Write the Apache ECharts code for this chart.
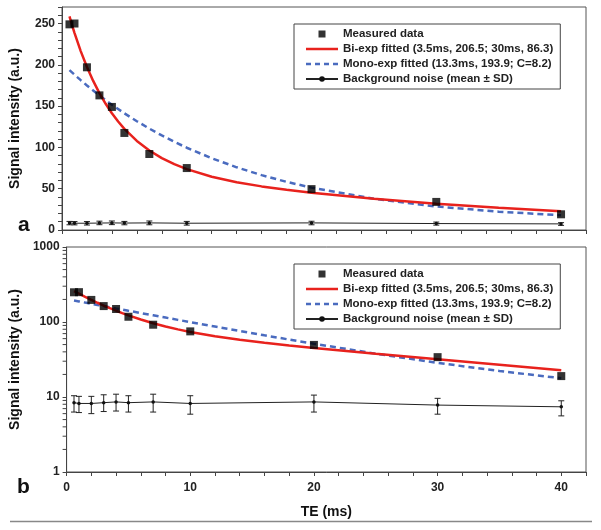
<!DOCTYPE html>
<html><head><meta charset="utf-8">
<script src="https://cdn.jsdelivr.net/npm/echarts@6/dist/echarts.min.js"></script>
<style>html,body{margin:0;padding:0;background:#fff}#c{width:601px;height:530px}</style>
</head><body><div id="c"></div>
<script>
// ---- data ----
const teMeasured = [0.6, 1, 2, 3, 4, 5, 7, 10, 20, 30, 40];
const measured   = [249, 250, 197, 163, 149, 117.5, 92, 75, 49.5, 34, 19];
const teFit   = [0.6, 0.8, 1, 1.5, 2, 2.5, 3, 3.5, 4, 4.5, 5, 6, 7, 8, 9, 10, 12, 14, 16, 18, 20, 25, 30, 35, 40];
const biExp   = [258.6, 248.3, 238.7, 216.6, 197.3, 180.5, 165.7, 152.8, 141.4, 131.4, 122.5, 107.8, 96.3, 87.1, 79.7, 73.7, 64.5, 57.9, 52.8, 48.6, 45.0, 37.7, 31.8, 26.9, 22.8];
const monoExp = [193.5, 190.8, 188.1, 181.4, 175.0, 168.9, 163.0, 157.2, 151.7, 146.5, 141.3, 131.7, 122.8, 114.5, 106.8, 99.6, 86.9, 75.9, 66.4, 58.3, 51.3, 37.8, 28.5, 22.2, 17.8];
const noiseMean = [8.4, 8.2, 8.2, 8.4, 8.6, 8.4, 8.6, 8.2, 8.6, 7.8, 7.4];
const noiseLow  = [6.3, 6.2, 6.0, 6.4, 6.5, 6.3, 6.3, 5.9, 6.3, 5.9, 5.6];
const noiseHigh = [10.4, 10.2, 10.2, 10.7, 10.9, 10.4, 10.9, 10.4, 10.6, 9.6, 8.9];
const linLabels = [0, 50, 100, 150, 200, 250];
const logLabels = [1, 10, 100, 1000];
const logMinor  = [2,3,4,5,6,7,8,9,20,30,40,50,60,70,80,90,200,300,400,500,600,700,800,900];
const xLabels   = [0, 10, 20, 30, 40];
const names = ['Measured data', 'Bi-exp fitted (3.5ms, 206.5; 30ms, 86.3)', 'Mono-exp fitted (13.3ms, 193.9; C=8.2)', 'Background noise (mean \u00b1 SD)'];

// ---- chart ----
const FONT = 'Liberation Sans, Arial, sans-serif';
const AX = '#444';
const RED = '#e8221d', BLUE = '#4a6bbf';
const chart = echarts.init(document.getElementById('c'), null, {renderer: 'canvas'});

function xAxisCfg(gi, showLabels) {
  return {
    type: 'value', gridIndex: gi, min: 0, max: 42, interval: 2,
    axisLine: {show: true, onZero: false, lineStyle: {color: AX, width: 1}},
    axisTick: {show: true, inside: false, length: 4, lineStyle: {color: AX}},
    splitLine: {show: false},
    axisLabel: {show: showLabels, margin: 10, fontFamily: FONT, fontWeight: 'bold', fontSize: 12, color: '#222',
      formatter: v => xLabels.indexOf(v) >= 0 ? String(v) : ''},
    name: showLabels ? 'TE (ms)' : '', nameLocation: 'middle', nameGap: 33,
    nameTextStyle: {fontFamily: FONT, fontWeight: 'bold', fontSize: 14, color: '#111'}
  };
}
const yName = {fontFamily: FONT, fontWeight: 'bold', fontSize: 14, color: '#111'};

function panelSeries(gi) {
  return [
    {name: names[2], type: 'line', xAxisIndex: gi, yAxisIndex: gi, showSymbol: false, symbol: 'none', smooth: false,
     lineStyle: {color: BLUE, width: 2.5, type: [6, 4]}, itemStyle: {color: BLUE},
     data: teFit.map((t, i) => [t, monoExp[i]]), z: 3},
    {name: names[1], type: 'line', xAxisIndex: gi, yAxisIndex: gi, showSymbol: false, symbol: 'none', smooth: false,
     lineStyle: {color: RED, width: 2.5}, itemStyle: {color: RED},
     data: teFit.map((t, i) => [t, biExp[i]]), z: 4},
    {name: names[3], type: 'line', xAxisIndex: gi, yAxisIndex: gi, symbol: 'circle', symbolSize: 3.5,
     lineStyle: {color: '#222', width: 1}, itemStyle: {color: '#111'},
     data: teMeasured.map((t, i) => [t, noiseMean[i]]), z: 3},
    {name: 'err' + gi, type: 'custom', xAxisIndex: gi, yAxisIndex: gi, silent: true, z: 3,
     data: teMeasured.map((t, i) => [t, noiseLow[i], noiseHigh[i]]),
     renderItem: (params, api) => {
       const lo = api.coord([api.value(0), api.value(1)]);
       const hi = api.coord([api.value(0), api.value(2)]);
       const st = {stroke: '#222', lineWidth: 1};
       return {type: 'group', children: [
         {type: 'line', shape: {x1: lo[0], y1: lo[1], x2: hi[0], y2: hi[1]}, style: st},
         {type: 'line', shape: {x1: lo[0] - 3, y1: lo[1], x2: lo[0] + 3, y2: lo[1]}, style: st},
         {type: 'line', shape: {x1: hi[0] - 3, y1: hi[1], x2: hi[0] + 3, y2: hi[1]}, style: st}
       ]};
     }},
    {name: names[0], type: 'scatter', xAxisIndex: gi, yAxisIndex: gi, symbol: 'rect', symbolSize: 8,
     itemStyle: {color: '#000'}, data: teMeasured.map((t, i) => [t, measured[i]]), z: 6}
  ];
}

function legendCfg(top) {
  return {
    left: 294, top: top, orient: 'vertical', itemWidth: 32, itemHeight: 7, itemGap: 3,
    padding: [4, 7, 4, 11], borderColor: '#444', borderWidth: 1, backgroundColor: '#fff',
    selectedMode: false,
    textStyle: {fontFamily: FONT, fontWeight: 'bold', fontSize: 11.5, color: '#222'},
    data: [
      {name: names[0], icon: 'path://M0,0h10v10h-10z'},
      {name: names[1], icon: 'path://M0,0h32v2.5h-32z', itemStyle: {color: RED, borderWidth: 0}},
      {name: names[2], icon: 'path://M0,0h5v2.5h-5zM9,0h5v2.5h-5zM18,0h5v2.5h-5zM27,0h5v2.5h-5z', itemStyle: {color: BLUE, borderWidth: 0}},
      names[3]
    ]
  };
}

const option = {
  animation: false,
  backgroundColor: '#fff',
  grid: [
    {left: 62, right: 15, top: 7, height: 223, show: true, borderColor: '#555', borderWidth: 1, backgroundColor: 'transparent'},
    {left: 62, right: 15, top: 247, height: 225, show: true, borderColor: '#555', borderWidth: 1, backgroundColor: 'transparent'}
  ],
  legend: [legendCfg(24), legendCfg(264)],
  xAxis: [xAxisCfg(0, false), xAxisCfg(1, true)],
  yAxis: [
    {type: 'value', gridIndex: 0, min: 0, max: 270, interval: 10,
     axisLine: {show: true, lineStyle: {color: AX}},
     axisTick: {show: true, length: 4, lineStyle: {color: AX}},
     splitLine: {show: false},
     axisLabel: {margin: 7, fontFamily: FONT, fontWeight: 'bold', fontSize: 12, color: '#222',
       formatter: v => linLabels.indexOf(v) >= 0 ? String(v) : ''},
     name: 'Signal intensity (a.u.)', nameLocation: 'middle', nameGap: 40, nameTextStyle: yName},
    {type: 'log', logBase: 10, gridIndex: 1, min: 1, max: 1000,
     axisLine: {show: true, lineStyle: {color: AX}},
     axisTick: {show: true, length: 4, lineStyle: {color: AX}},
     minorTick: {show: false},
     splitLine: {show: false},
     axisLabel: {margin: 7, fontFamily: FONT, fontWeight: 'bold', fontSize: 12, color: '#222',
       formatter: v => logLabels.indexOf(Math.round(v)) >= 0 ? String(Math.round(v)) : ''},
     name: 'Signal intensity (a.u.)', nameLocation: 'middle', nameGap: 40, nameTextStyle: yName}
  ],
  graphic: [
    {type: 'text', left: 18, top: 215, style: {text: 'a', font: 'bold 21px ' + FONT, fill: '#111'}},
    {type: 'text', left: 17, top: 477, style: {text: 'b', font: 'bold 21px ' + FONT, fill: '#111'}},
    {type: 'line', shape: {x1: 10, y1: 521.5, x2: 592, y2: 521.5}, style: {stroke: '#888', lineWidth: 1.5}}
  ],
  series: panelSeries(0).concat(panelSeries(1)).concat([
    {name: 'logMinor', type: 'custom', xAxisIndex: 1, yAxisIndex: 1, silent: true, clip: false,
     data: logMinor.map(v => [0, v]),
     renderItem: (params, api) => {
       const p = api.coord([0, api.value(1)]);
       return {type: 'line', shape: {x1: p[0] - 4, y1: p[1], x2: p[0], y2: p[1]}, style: {stroke: AX, lineWidth: 1}};
     }}
  ])
};
chart.setOption(option);
</script>
</body></html>
